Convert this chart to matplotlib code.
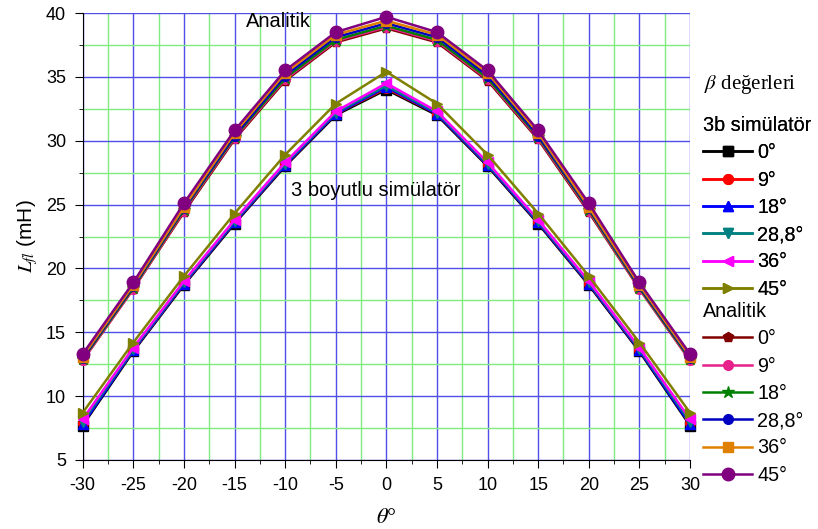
import numpy as np
import matplotlib
matplotlib.use("Agg")
import matplotlib.pyplot as plt
from matplotlib.ticker import MultipleLocator

plt.rcParams['font.family'] = ['Liberation Sans', 'DejaVu Sans']
plt.rcParams['mathtext.fontset'] = 'stix'
plt.rcParams['axes.unicode_minus'] = False

theta = [-30, -25, -20, -15, -10, -5, 0, 5, 10, 15, 20, 25, 30]
betas = ["0°", "9°", "18°", "28,8°", "36°", "45°"]

# 3b simulator results (mH)
sim_0 = [7.7, 13.5, 18.7, 23.5, 28.0, 32.0, 34.0, 32.0, 28.0, 23.5, 18.7, 13.5, 7.7]
sim_9 = [7.9, 13.6, 18.8, 23.6, 28.1, 32.1, 34.1, 32.1, 28.1, 23.6, 18.8, 13.6, 7.9]
sim_18 = [7.8, 13.6, 18.8, 23.6, 28.1, 32.1, 34.2, 32.1, 28.1, 23.6, 18.8, 13.6, 7.8]
sim_288 = [8.0, 13.7, 18.9, 23.7, 28.2, 32.2, 34.3, 32.2, 28.2, 23.7, 18.9, 13.7, 8.0]
sim_36 = [8.2, 13.8, 19.0, 23.8, 28.3, 32.3, 34.5, 32.3, 28.3, 23.8, 19.0, 13.8, 8.2]
sim_45 = [8.7, 14.2, 19.4, 24.3, 28.9, 32.9, 35.4, 32.9, 28.9, 24.3, 19.4, 14.2, 8.7]

# analytic results (mH)
an_0 = [12.8, 18.4, 24.4, 30.1, 34.7, 37.7, 38.8, 37.7, 34.7, 30.1, 24.4, 18.4, 12.8]
an_9 = [12.8, 18.4, 24.5, 30.2, 34.8, 37.8, 38.9, 37.8, 34.8, 30.2, 24.5, 18.4, 12.8]
an_18 = [12.9, 18.5, 24.6, 30.3, 34.9, 37.9, 39.0, 37.9, 34.9, 30.3, 24.6, 18.5, 12.9]
an_288 = [13.0, 18.6, 24.7, 30.4, 35.1, 38.1, 39.2, 38.1, 35.1, 30.4, 24.7, 18.6, 13.0]
an_36 = [13.1, 18.7, 24.8, 30.6, 35.3, 38.3, 39.4, 38.3, 35.3, 30.6, 24.8, 18.7, 13.1]
an_45 = [13.3, 18.9, 25.1, 30.8, 35.5, 38.5, 39.7, 38.5, 35.5, 30.8, 25.1, 18.9, 13.3]

sim_data = [sim_0, sim_9, sim_18, sim_288, sim_36, sim_45]
an_data = [an_0, an_9, an_18, an_288, an_36, an_45]

sim_style = [("#000000", "s"), ("#FF0000", "o"), ("#0000FF", "^"),
             ("#008080", "v"), ("#FF00FF", "<"), ("#808000", ">")]
an_style = [("#800000", "p"), ("#E8208C", "o"), ("#008000", "*"),
            ("#0000C0", "o"), ("#E08000", "s"), ("#800080", "o")]

fig = plt.figure(figsize=(8.18, 5.29), dpi=100)
ax = fig.add_axes([82.7/818, 1-460/529, 607.3/818, 447/529])

sim_lines = []
for y, (c, m), b in zip(sim_data, sim_style, betas):
    l, = ax.plot(theta, y, color=c, marker=m, markersize=7, lw=1.8, label=b, clip_on=False, zorder=3)
    sim_lines.append(l)

an_lines = []
for i, (y, (c, m), b) in enumerate(zip(an_data, an_style, betas)):
    ms = 9 if m == "*" else 7
    if i == 5:
        ms = 9
    l, = ax.plot(theta, y, color=c, marker=m, markersize=ms, lw=1.8, label=b, clip_on=False, zorder=4)
    an_lines.append(l)

ax.set_xlim(-30, 30)
ax.set_ylim(5, 40)
ax.xaxis.set_major_locator(MultipleLocator(5))
ax.xaxis.set_minor_locator(MultipleLocator(2.5))
ax.yaxis.set_major_locator(MultipleLocator(5))
ax.yaxis.set_minor_locator(MultipleLocator(2.5))
ax.grid(True, which='major', color='#5050E8', lw=1)
ax.grid(True, which='minor', color='#80EC80', lw=1)
ax.set_axisbelow(True)
ax.spines['top'].set_visible(False)
ax.spines['right'].set_visible(False)
ax.tick_params(which='major', direction='out', length=6, labelsize=13, color='black', pad=6)
ax.tick_params(which='minor', direction='out', length=3)

ax.set_xlabel(r'$\theta$°', fontsize=16, family=['Liberation Serif'], labelpad=11)
ax.set_ylabel(r'$L_{fl}$ (mH)', fontsize=15, labelpad=4)

ax.text(-10.7, 39.3, "Analitik", fontsize=14.5, ha='center', va='center')
ax.text(-1.0, 26.1, "3 boyutlu simülatör", fontsize=14.5, ha='center', va='center')

fig.text(704/818, 1-84/529, r'$\beta$ değerleri', fontsize=15, va='center', family=['Liberation Serif'])

leg_kw = dict(loc='upper left', frameon=False, fontsize=14.2, title_fontsize=14.2,
              alignment='left', handlelength=2.5, handletextpad=0.25, labelspacing=0.42,
              borderpad=0, borderaxespad=0, markerscale=1.0)
leg1 = fig.legend(handles=sim_lines, bbox_to_anchor=(703/818, 1-116/529),
                  title="3b simülatör", **leg_kw)
fig.legend(handles=an_lines, bbox_to_anchor=(703/818, 1-302/529),
           title="Analitik", **leg_kw)
fig.add_artist(leg1)

fig.savefig("out.png", dpi=100)
